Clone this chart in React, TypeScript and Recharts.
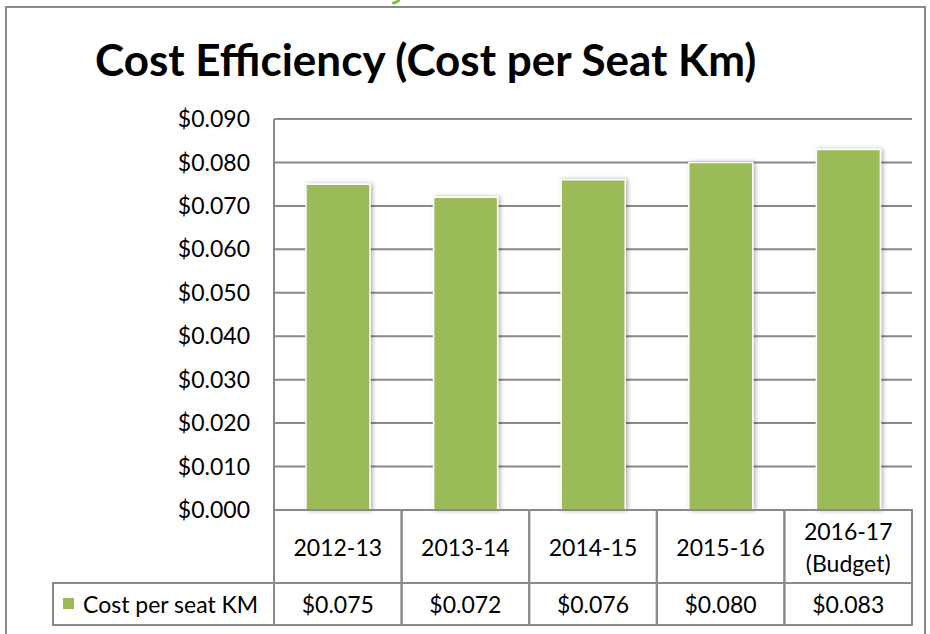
import React from 'react';
import { BarChart, Bar, XAxis, YAxis, CartesianGrid } from 'recharts';

// chart values
const categories = ['2012-13', '2013-14', '2014-15', '2015-16', '2016-17 (Budget)'];
const costPerSeatKm = [0.075, 0.072, 0.076, 0.08, 0.083];
const yTicks = [0, 0.01, 0.02, 0.03, 0.04, 0.05, 0.06, 0.07, 0.08, 0.09];
const seriesName = 'Cost per seat KM';
const chartTitle = 'Cost Efficiency (Cost per Seat Km)';

const data = categories.map((category, i) => ({ category, value: costPerSeatKm[i] }));

const W = 930;
const H = 634;
const PLOT_LEFT = 274;
const PLOT_RIGHT = 912;
const PLOT_TOP = 119;
const PLOT_BOTTOM = 510;
const CAT_ROW_BOTTOM = 583;
const VALUE_ROW_BOTTOM = 625;
const LEGEND_LEFT = 53;

const FONT = 'Lato, "Open Sans", sans-serif';
const GREEN = '#9BBB59';
const LINE = '#8a8a8a';

const fmt = (v: number) => `$${v.toFixed(3)}`;

// x axis tick drawn as a data table cell (category row + value row)
const TableTick = (props: any) => {
  const { x, payload } = props;
  const i: number = payload.index;
  const bw = (PLOT_RIGHT - PLOT_LEFT) / categories.length;
  const left = x - bw / 2;
  const lines = String(payload.value).split(' ');
  const catMid = (PLOT_BOTTOM + CAT_ROW_BOTTOM) / 2;
  const valMid = (CAT_ROW_BOTTOM + VALUE_ROW_BOTTOM) / 2;
  const lh = 32;

  return (
    <g>
      <rect x={left} y={PLOT_BOTTOM} width={bw} height={CAT_ROW_BOTTOM - PLOT_BOTTOM}
        fill="none" stroke={LINE} strokeWidth={2} />
      <rect x={left} y={CAT_ROW_BOTTOM} width={bw} height={VALUE_ROW_BOTTOM - CAT_ROW_BOTTOM}
        fill="none" stroke={LINE} strokeWidth={2} />
      {lines.map((t, k) => (
        <text key={k} x={x} y={catMid + (k - (lines.length - 1) / 2) * lh}
          textAnchor="middle" dominantBaseline="central" fontSize={23} fontFamily={FONT} fill="#000">
          {t}
        </text>
      ))}
      <text x={x} y={valMid} textAnchor="middle" dominantBaseline="central"
        fontSize={23} fontFamily={FONT} fill="#000">
        {fmt(costPerSeatKm[i])}
      </text>
      {i === 0 && (
        <g>
          <rect x={LEGEND_LEFT} y={CAT_ROW_BOTTOM} width={left - LEGEND_LEFT}
            height={VALUE_ROW_BOTTOM - CAT_ROW_BOTTOM} fill="none" stroke={LINE} strokeWidth={2} />
          <rect x={LEGEND_LEFT + 10} y={valMid - 6} width={11} height={11} fill={GREEN} />
          <text x={LEGEND_LEFT + 30} y={valMid} dominantBaseline="central"
            fontSize={23} fontFamily={FONT} fill="#000">
            {seriesName}
          </text>
        </g>
      )}
    </g>
  );
};

export default function App() {
  return (
    <div style={{ position: 'absolute', left: 0, top: 0, width: W, height: H, overflow: 'hidden', background: '#fff' }}>
      {/* outer chart border */}
      <div style={{ position: 'absolute', left: 5, top: 6, width: W - 9, height: H + 40, border: `2px solid ${LINE}`, boxSizing: 'border-box' }} />
      {/* tail of a green glyph from the heading above the chart, cut off by the page */}
      <svg style={{ position: 'absolute', left: 390, top: 0 }} width={14} height={6}>
        <path d="M10 -2 Q8 2.5 3.5 3" stroke="#7CC242" strokeWidth={3} fill="none" strokeLinecap="round" />
      </svg>
      <div style={{ position: 'absolute', left: 95, top: 37, fontFamily: FONT, fontWeight: 700, fontSize: 44, lineHeight: '44px', color: '#000', whiteSpace: 'nowrap' }}>
        {chartTitle}
      </div>
      <div style={{ position: 'absolute', left: 0, top: 0 }}>
        <BarChart width={W} height={H} data={data}
          margin={{ top: PLOT_TOP, right: W - PLOT_RIGHT, bottom: 0, left: 0 }}>
          <defs>
            <filter id="barShadow" x="-20%" y="-10%" width="140%" height="120%">
              <feDropShadow dx="2" dy="0" stdDeviation="2" floodColor="#000" floodOpacity="0.3" />
            </filter>
          </defs>
          <CartesianGrid vertical={false} stroke={LINE} strokeWidth={2} />
          <XAxis dataKey="category" axisLine={false} tickLine={false} height={H - PLOT_BOTTOM}
            interval={0} tick={<TableTick />} />
          <YAxis width={PLOT_LEFT} domain={[0, 0.09]} ticks={yTicks} tickFormatter={fmt}
            axisLine={{ stroke: LINE, strokeWidth: 2 }} tickLine={false} tickMargin={18}
            tick={{ fill: '#000', fontSize: 23, fontFamily: FONT }} />
          <Bar dataKey="value" name={seriesName} fill={GREEN} stroke="#fff" strokeWidth={1.5}
            barSize={64} isAnimationActive={false} style={{ filter: 'url(#barShadow)' }} />
        </BarChart>
      </div>
    </div>
  );
}
